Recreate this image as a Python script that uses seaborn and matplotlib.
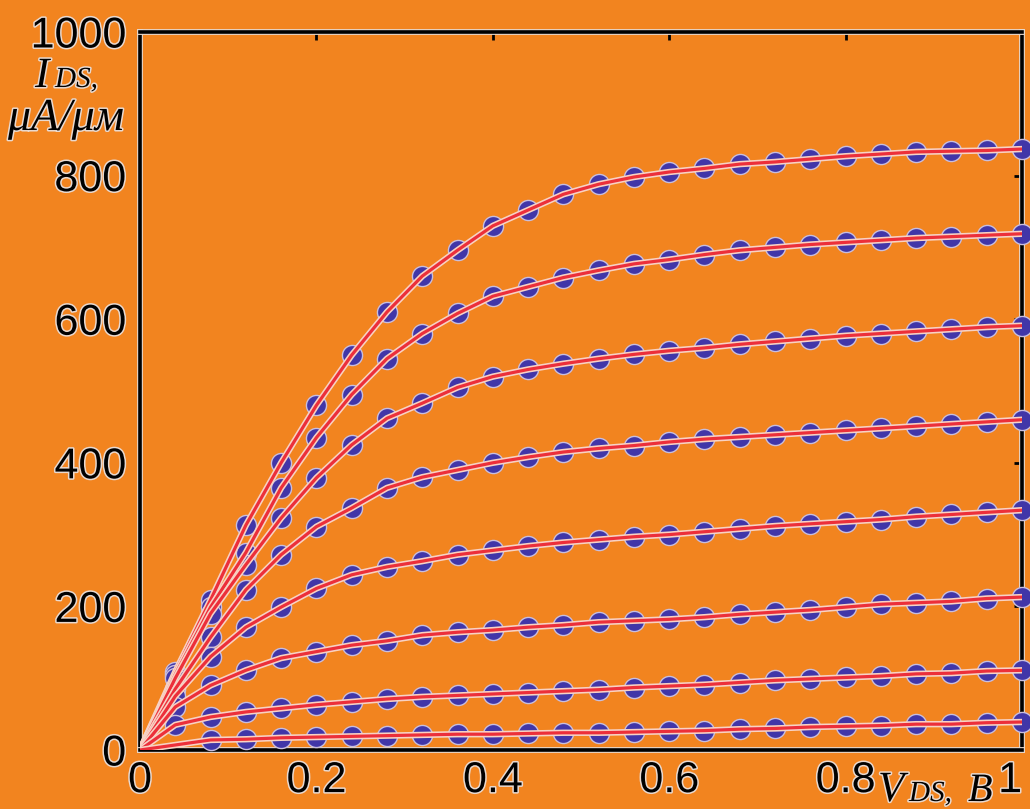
import numpy as np
import pandas as pd
import matplotlib
matplotlib.use("Agg")
import matplotlib.pyplot as plt
import matplotlib.patheffects as pe
import seaborn as sns

# ---- data ----
vds = [0.04, 0.08, 0.12, 0.16, 0.20, 0.24, 0.28, 0.32, 0.36, 0.40, 0.44, 0.48, 0.52,
       0.56, 0.60, 0.64, 0.68, 0.72, 0.76, 0.80, 0.84, 0.88, 0.92, 0.96, 1.00]

ids_1 = [109, 209, 313, 400, 480, 550, 610, 660, 696, 730, 752, 774, 788,
         798, 805, 810, 816, 819, 823, 827, 830, 833, 834, 835, 837]
ids_2 = [105, 199, 275, 365, 435, 495, 545, 580, 608, 632, 645, 658, 668,
         677, 683, 690, 696, 700, 704, 707, 710, 713, 715, 717, 719]
ids_3 = [100, 190, 258, 323, 379, 425, 462, 483, 505, 520, 530, 538, 545,
         551, 556, 560, 565, 569, 573, 577, 580, 583, 586, 589, 591]
ids_4 = [85, 157, 223, 272, 311, 337, 365, 380, 390, 400, 408, 415, 420,
         424, 429, 433, 436, 439, 442, 445, 448, 451, 454, 457, 460]
ids_5 = [75, 130, 171, 199, 225, 244, 255, 263, 272, 278, 284, 289, 293,
         297, 300, 304, 308, 312, 315, 318, 321, 325, 328, 331, 334]
ids_6 = [60, 90, 111, 128, 137, 146, 152, 160, 164, 167, 171, 174, 178,
         180, 182, 185, 189, 192, 195, 199, 203, 205, 207, 211, 213]
ids_7 = [35, 46, 53, 58, 63, 67, 71, 74, 76, 78, 80, 82, 84,
         87, 89, 91, 94, 97, 99, 101, 103, 106, 107, 110, 111]
ids_8 = [np.nan, 14, 15, 17, 18, 19, 20, 21, 22, 22, 23, 24, 24,
         25, 26, 27, 29, 30, 32, 33, 34, 36, 36, 38, 39]

curves = [ids_1, ids_2, ids_3, ids_4, ids_5, ids_6, ids_7, ids_8]

xticks = [0, 0.2, 0.4, 0.6, 0.8, 1.0]
xticklabels = ["0", "0.2", "0.4", "0.6", "0.8", "1"]
yticks = [0, 200, 400, 600, 800, 1000]
yticklabels = ["0", "200", "400", "600", "800", "1000"]

# ---- tidy frames ----
pts = pd.DataFrame({
    "vds": np.tile(vds, len(curves)),
    "ids": np.concatenate([np.asarray(c, float) for c in curves]),
    "curve": np.repeat(np.arange(len(curves)), len(vds)),
}).dropna()

line_rows = []
for k, c in enumerate(curves):
    line_rows.append({"vds": 0.0, "ids": 0.0, "curve": k})
    for xv, yv in zip(vds, c):
        if not np.isnan(yv):
            line_rows.append({"vds": xv, "ids": yv, "curve": k})
lines = pd.DataFrame(line_rows)

# ---- styling ----
ORANGE = "#F2841F"
BLUE = "#4136A8"
RED = "#EC2F3A"
HALO = "#F8D2C4"

sns.set_theme(style="white")
plt.rcParams["font.family"] = ["Liberation Sans", "DejaVu Sans"]

fig = plt.figure(figsize=(10.30, 8.09), dpi=100, facecolor=ORANGE)
ax = fig.add_axes([140 / 1030, 59 / 809, 882 / 1030, 718 / 809])
ax.set_facecolor(ORANGE)

sns.scatterplot(data=pts, x="vds", y="ids", ax=ax, s=210, color=BLUE,
                edgecolor="#C9BEDD", linewidth=1.0, zorder=3, legend=False,
                clip_on=False)

sns.lineplot(data=lines, x="vds", y="ids", units="curve", estimator=None, ax=ax,
             color=RED, linewidth=2.3, zorder=4, legend=False, sort=False,
             path_effects=[pe.Stroke(linewidth=4.6, foreground=HALO), pe.Normal()])

ax.set_xlim(0, 1)
ax.set_ylim(0, 1000)
ax.set_xticks(xticks)
ax.set_xticklabels(xticklabels)
ax.set_yticks(yticks)
ax.set_yticklabels(yticklabels)
ax.set_xlabel("")
ax.set_ylabel("")

ax.tick_params(axis="both", which="both", direction="in", length=6, width=2,
               color="black", labelsize=31, labelcolor="black",
               top=True, right=True)
ax.tick_params(axis="x", pad=8)
ax.tick_params(axis="y", pad=10)

label_halo = [pe.withStroke(linewidth=2.2, foreground="#E9D9CF")]
for t in ax.get_xticklabels() + ax.get_yticklabels():
    t.set_path_effects(label_halo)
ax.get_xticklabels()[-1].set_horizontalalignment("right")

for sp in ax.spines.values():
    sp.set_visible(True)
    sp.set_color("black")
    sp.set_linewidth(2.6)
    sp.set_path_effects([pe.Stroke(linewidth=4.2, foreground="#E6D6CA"), pe.Normal()])

# ---- axis captions (serif italic, placed in figure pixels) ----
def ftxt(x, y, s, size, **kw):
    t = fig.text(x / 1030, 1 - y / 809, s, fontsize=size, style="italic",
                 family=["Liberation Serif", "DejaVu Serif"], color="black",
                 va="baseline", ha="left", **kw)
    t.set_path_effects(label_halo)
    return t

ftxt(35, 87, "I", 31)
ftxt(55, 87, "DS,", 21)
ftxt(8, 130, "μA/μм", 33)

ftxt(878, 801, "V", 31)
ftxt(909, 801, "DS,", 21)
ftxt(968, 801, "B", 29)

fig.savefig("out.png", dpi=100, facecolor=ORANGE)
